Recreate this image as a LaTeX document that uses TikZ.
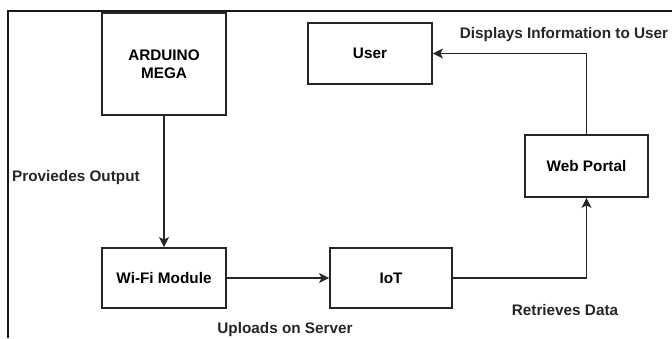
\documentclass[tikz,border=0pt]{standalone}
\usepackage{fontspec}
\setmainfont{Liberation Sans}
\usetikzlibrary{arrows.meta}
\begin{document}
\begin{tikzpicture}[x=1pt,y=-1pt,
  box/.style={draw=black!85,line width=1.8pt,inner sep=0pt,font=\fontsize{15.3}{18}\selectfont\bfseries,align=center},
  lbl/.style={inner sep=0pt,font=\fontsize{15.3}{18}\selectfont\bfseries,text=black!85},
  conn/.style={draw=black!85,line width=1.8pt,-{Stealth[length=10pt,width=10pt,inset=2.5pt]}}]
\useasboundingbox (0,0) rectangle (672,338);
\draw[line width=2pt,black!90] (8,338) -- (8,11) -- (672,11);
\node[box,minimum width=124pt,minimum height=102pt] (ard) at (164,64) {ARDUINO\\MEGA};
\node[box,minimum width=124pt,minimum height=61pt] (user) at (370,53.5) {User};
\node[box,minimum width=124pt,minimum height=60pt] (wifi) at (164,278) {Wi-Fi Module};
\node[box,minimum width=122pt,minimum height=60pt] (iot) at (391,278) {IoT};
\node[box,minimum width=123pt,minimum height=62pt] (web) at (586.5,166) {Web Portal};
\draw[conn] (ard) -- (wifi);
\draw[conn] (wifi) -- (iot);
\draw[conn] (iot.east) -| (web.south);
\draw[conn] (web.north) |- (user.east);
\node[lbl,anchor=west] (l1) at (12,178) {Proviedes Output};
\node[lbl] (l2) at (285,330) {Uploads on Server};
\node[lbl] (l3) at (565,310) {Retrieves Data};
\node[lbl] (l4) at (564,35) {Displays Information to User};
\end{tikzpicture}
\end{document}
